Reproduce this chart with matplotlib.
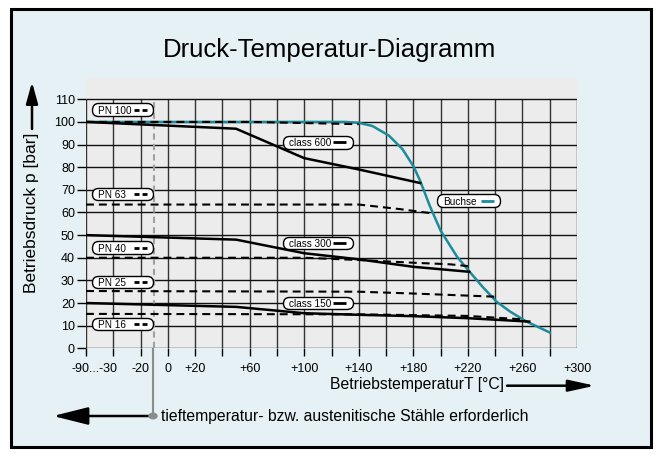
import matplotlib
matplotlib.use('Agg')
import matplotlib.pyplot as plt
from matplotlib.patches import Rectangle, FancyArrowPatch, Circle
from matplotlib.lines import Line2D
from matplotlib.text import Text
from matplotlib.offsetbox import DrawingArea, AnnotationBbox

plt.rcParams['font.family'] = ['Liberation Sans', 'DejaVu Sans']

# temperatures [°C] and pressures [bar]
buchse_t = [-60, 130, 140, 150, 162, 172, 180, 185, 192, 200, 212, 221, 231, 241, 251, 263, 280]
buchse_p = [100, 100, 99.6, 98.2, 94, 88, 80.5, 74, 63, 52, 40.5, 34, 27, 20.6, 16.2, 11.8, 7]

class600_t = [-60, 50, 100, 140, 185]
class600_p = [100, 97, 84, 79, 73]
class300_t = [-60, 50, 100, 140, 180, 221]
class300_p = [50, 48, 42, 39.3, 36, 33.8]
class150_t = [-60, 50, 100, 140, 180, 220, 265]
class150_p = [20, 18.3, 15.5, 14.8, 14.2, 13.3, 11.8]

pn100_t = [-60, 60, 140]
pn100_p = [100, 100, 99]
pn63_t = [-60, 140, 170, 195]
pn63_p = [63.5, 63.5, 61.5, 59.5]
pn40_t = [-60, 100, 140, 180, 207, 220]
pn40_p = [40, 40, 39, 37.8, 37.1, 36.3]
pn25_t = [-60, 140, 180, 240]
pn25_p = [25.3, 25, 24.2, 22.8]
pn16_t = [-60, 140, 220, 260]
pn16_p = [15.2, 15, 14.3, 12.8]

xtick_pos = list(range(-60, 301, 20))
xtick_lab = {-20: '-20', 0: '0', 20: '+20', 60: '+60', 100: '+100', 140: '+140',
             180: '+180', 220: '+220', 260: '+260', 300: '+300'}
ytick_pos = list(range(0, 111, 10))
low_temp = -10

TEAL = '#1b8c9b'
BG = '#e5f1f4'
W, H = 658, 455

fig = plt.figure(figsize=(W / 100, H / 100), dpi=100)
fig.patch.set_facecolor('white')
fig.patches.append(Rectangle((11 / W, 8 / H), 640 / W, 438 / H, transform=fig.transFigure,
                             facecolor=BG, edgecolor='black', lw=2.2, zorder=-1))

ax = fig.add_axes([86 / W, (H - 348.3) / H, 491 / W, 270.3 / H])
ax.set_facecolor('#ececec')
ax.set_xlim(-60, 300)
ax.set_ylim(0, 119.4)
for s in ax.spines.values():
    s.set_visible(False)

ax.vlines(xtick_pos, 0, 110, color='#333333', lw=1.0, zorder=1)
ax.hlines(ytick_pos, -60, 300, color='#111111', lw=1.0, zorder=1)

ax.set_xticks(xtick_pos)
ax.set_xticklabels([xtick_lab.get(t, '') for t in xtick_pos])
ax.set_yticks(ytick_pos)
ax.tick_params(axis='x', length=5.8, width=1, pad=5, labelsize=9)
ax.tick_params(axis='y', length=6.5, width=1, pad=1.5, labelsize=9)
ax.xaxis.get_major_ticks()[-1].tick1line.set_visible(False)
ax.annotate('-90...-30', xy=(-54, 0), xycoords=('data', 'axes fraction'),
            xytext=(0, -10.8), textcoords='offset points', ha='center', va='top', fontsize=9)

# low temperature marker
ax.plot([low_temp, low_temp], [0, 110], color='#a0a0a0', lw=1.5, ls=(0, (3, 2)), zorder=2)

ax.plot(buchse_t, buchse_p, color=TEAL, lw=1.8, zorder=3)
dash = (0, (3.8, 2.4))
for t, p in [(pn100_t, pn100_p), (pn63_t, pn63_p), (pn40_t, pn40_p), (pn25_t, pn25_p), (pn16_t, pn16_p)]:
    ax.plot(t, p, color='black', lw=1.5, ls=dash, zorder=4)
for t, p in [(class600_t, class600_p), (class300_t, class300_p), (class150_t, class150_p)]:
    ax.plot(t, p, color='black', lw=1.8, zorder=5)


def tag(x, y, text, w, color, ls, lw=2):
    h = 9
    fs = 7.2
    da = DrawingArea(w, h, clip=False)
    da.add_artist(Text(4.2, h / 2 - fs * 0.36 - 0.4, text, fontsize=fs, va='baseline', ha='left'))
    da.add_artist(Line2D([w - 13.8, w - 4.4], [h / 2, h / 2], color=color, lw=lw, ls=ls,
                         solid_capstyle='butt', dash_capstyle='butt'))
    ab = AnnotationBbox(da, (x, y), xycoords='data', box_alignment=(0, 0.5), pad=0,
                        bboxprops=dict(boxstyle='round,pad=0,rounding_size=0.45',
                                       fc='white', ec='black', lw=1))
    ab.set_zorder(6)
    ax.add_artist(ab)


pn_dash = (0, (1.8, 1.1))
tag(-55.8, 105.4, 'PN 100', 44.3, 'black', pn_dash)
tag(-55.8, 68.1, 'PN 63', 44.3, 'black', pn_dash)
tag(-55.8, 44.5, 'PN 40', 44.3, 'black', pn_dash)
tag(-55.8, 29.3, 'PN 25', 44.3, 'black', pn_dash)
tag(-55.8, 10.7, 'PN 16', 44.3, 'black', pn_dash)
tag(84.5, 91, 'class 600', 50, 'black', '-')
tag(84.5, 46.6, 'class 300', 50, 'black', '-')
tag(84.5, 20, 'class 150', 50, 'black', '-')
tag(197.4, 65.2, 'Buchse', 45.6, TEAL, '-')

# texts and arrows around the chart (figure pixels)
fig.text(330 / W, (H - 50) / H, 'Druck-Temperatur-Diagramm', fontsize=18.5, ha='center', va='center')
fig.text(504 / W, (H - 384) / H, 'BetriebstemperaturT [°C]', fontsize=11.3, ha='right', va='center')
fig.text(32 / W, (H - 213) / H, 'Betriebsdruck p [bar]', fontsize=12.5, rotation=90,
         ha='center', va='center')
fig.text(161 / W, (H - 416) / H, 'tieftemperatur- bzw. austenitische Stähle erforderlich',
         fontsize=11.3, ha='left', va='center')


def arrow(x0, y0, x1, y1, hl, hw):
    fig.patches.append(FancyArrowPatch((x0 / W, (H - y0) / H), (x1 / W, (H - y1) / H),
                                       transform=fig.transFigure, mutation_scale=1,
                                       arrowstyle='-|>,head_length=%s,head_width=%s' % (hl, hw),
                                       color='black', lw=1.8, shrinkA=0, shrinkB=0))


arrow(507, 385.7, 595, 385.7, 16, 3.5)
arrow(32, 129, 32, 82, 13, 3.6)
arrow(153, 416, 53, 416, 21.6, 5.4)

fig.lines.append(Line2D([153 / W, 153 / W], [(H - 349) / H, (H - 416) / H], transform=fig.transFigure,
                        color='#8c8c8c', lw=1.5))
fig.patches.append(Circle((153 / W, (H - 416) / H), 4 / W, transform=fig.transFigure,
                          color='#8c8c8c', zorder=3))

fig.savefig('out.png', dpi=100)
